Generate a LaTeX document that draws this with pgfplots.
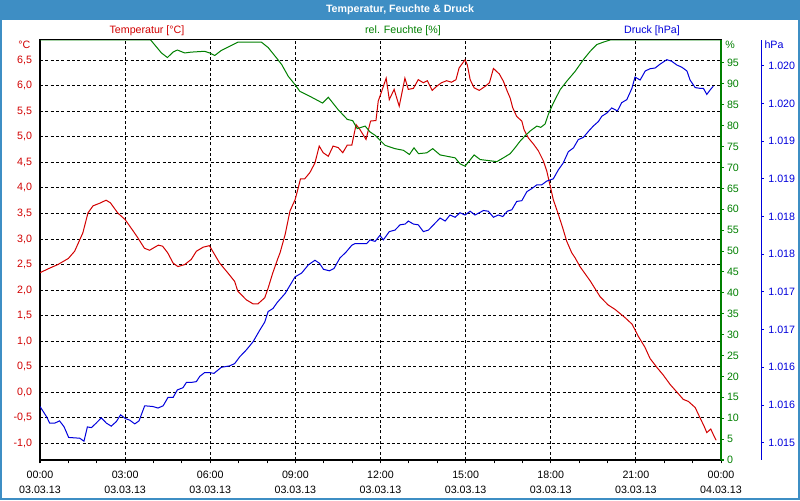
\documentclass[border=0pt]{standalone}
\usepackage{pgfplots}
\pgfplotsset{compat=1.18}
\usepackage{fontspec}
\setmainfont{Liberation Sans}
\definecolor{tred}{RGB}{210,0,0}
\definecolor{hgreen}{RGB}{0,128,0}
\definecolor{pblue}{RGB}{0,0,220}
\definecolor{titleblue}{RGB}{62,142,196}
\newcommand\f{\fontsize{8}{11.25}\selectfont}
\pgfplotsset{base/.style={at={(30pt,30pt)}, anchor=south west, scale only axis,
  width=510.75pt, height=315pt, xmin=0, xmax=24,
  every tick label/.append style={font=\f},
  /pgf/number format/assume math mode=true}}
\begin{document}
\begin{tikzpicture}
\begin{scope}[x=0.75pt,y=0.75pt]
\fill[white] (0,0) rectangle (800,500);
\fill[titleblue] (0,480) rectangle (800,500);
\draw[titleblue,line width=1.5pt] (1,1) rectangle (799,499);
\node[white,font=\bfseries\fontsize{8}{9}\selectfont] at (400,490) {Temperatur, Feuchte \& Druck};
\node[tred,font=\f] at (147,469) {Temperatur [°C]};
\node[hgreen,font=\f] at (403,469) {rel. Feuchte [\%]};
\node[pblue,font=\f] at (652,469) {Druck [hPa]};
\node[tred,font=\f,anchor=east] at (35,455) {°C};
\node[hgreen,font=\f] at (730,455) {\%};
\node[pblue,font=\f] at (774,455) {hPa};
\end{scope}

% Temperature axis
\begin{axis}[base,
 ymin=-1.327, ymax=6.897,
 axis line style={black, line width=0.75pt},
 xtick={0,3,6,9,12,15,18,21,24},
 minor xtick={1,2,4,5,7,8,10,11,13,14,16,17,19,20,22,23},
 xticklabels={{00:00\\03.03.13},{03:00\\03.03.13},{06:00\\03.03.13},{09:00\\03.03.13},{12:00\\03.03.13},{15:00\\03.03.13},{18:00\\03.03.13},{21:00\\03.03.13},{00:00\\04.03.13}},
 xticklabel style={align=center, text=black, yshift=-2pt},
 xtick pos=left, tick align=outside,
 major tick length=2.5pt, minor tick length=2.5pt,
 x tick style={black, line width=0.75pt},
 ytick={-1,-0.5,0,0.5,1,1.5,2,2.5,3,3.5,4,4.5,5,5.5,6,6.5},
 yticklabels={{-1,0},{-0,5},{0,0},{0,5},{1,0},{1,5},{2,0},{2,5},{3,0},{3,5},{4,0},{4,5},{5,0},{5,5},{6,0},{6,5}},
 ytick pos=left,
 y tick style={draw=none},
 yticklabel style={text=tred},
 grid=major,
 major grid style={black, line width=0.75pt, dash pattern=on 2.25pt off 1.75pt},
]
\addplot[tred, line width=0.75pt] table {
0.00 2.34
0.30 2.42
0.63 2.50
1.00 2.62
1.22 2.76
1.51 3.12
1.69 3.51
1.87 3.65
2.10 3.70
2.33 3.76
2.48 3.71
2.74 3.51
3.00 3.38
3.28 3.16
3.44 3.03
3.68 2.82
3.86 2.78
4.17 2.88
4.32 2.86
4.50 2.73
4.69 2.53
4.86 2.46
5.10 2.50
5.33 2.60
5.51 2.76
5.75 2.84
5.97 2.87
6.15 2.70
6.33 2.53
6.63 2.33
6.86 2.17
6.97 1.98
7.27 1.81
7.51 1.73
7.68 1.73
7.92 1.85
8.04 2.04
8.20 2.33
8.39 2.63
8.46 2.73
8.64 3.09
8.81 3.55
8.99 3.77
9.10 4.00
9.18 4.18
9.33 4.18
9.51 4.30
9.69 4.49
9.84 4.82
9.98 4.69
10.16 4.62
10.33 4.82
10.51 4.79
10.67 4.69
10.83 4.84
10.99 4.84
11.14 5.24
11.28 5.14
11.49 4.95
11.65 5.31
11.84 5.32
11.92 5.70
12.04 5.89
12.20 6.15
12.31 5.73
12.48 5.93
12.66 5.60
12.86 6.15
12.98 5.93
13.16 5.95
13.33 6.12
13.51 6.06
13.65 6.10
13.82 5.91
13.98 5.99
14.15 6.06
14.33 6.10
14.50 6.07
14.66 6.12
14.77 6.35
14.98 6.51
15.06 6.41
15.16 6.12
15.30 5.96
15.48 5.91
15.69 5.99
15.84 6.06
15.98 6.34
16.19 6.23
16.33 6.09
16.47 5.89
16.57 5.76
16.66 5.57
16.80 5.40
16.98 5.31
17.06 5.14
17.21 4.98
17.39 4.86
17.56 4.73
17.74 4.53
17.86 4.33
17.98 4.04
18.09 3.77
18.27 3.48
18.42 3.22
18.56 2.96
18.74 2.73
18.86 2.63
19.03 2.46
19.39 2.18
19.74 1.87
20.02 1.71
20.27 1.62
20.62 1.46
20.87 1.33
21.08 1.10
21.32 0.88
21.50 0.66
21.75 0.48
21.96 0.34
22.21 0.15
22.45 0.00
22.67 -0.14
22.85 -0.18
23.09 -0.30
23.26 -0.50
23.40 -0.66
23.50 -0.79
23.64 -0.72
23.73 -0.83
23.83 -0.94
};
\end{axis}

% Humidity axis
\begin{axis}[base, ymin=0, ymax=100.5,
 axis x line=none, axis y line*=right,
 y axis line style={hgreen, line width=1.1pt, -},
 ytick={0,5,...,95}, tick align=outside, major tick length=2pt,
 y tick style={hgreen, line width=0.75pt},
 yticklabel style={text=hgreen, xshift=-1pt},
]
\addplot[hgreen, line width=0.75pt] table {
0.00 100.5
3.90 100.5
4.28 97.4
4.49 96.3
4.69 97.6
4.84 98.1
5.10 97.4
5.33 97.6
5.80 97.8
5.98 97.4
6.16 96.8
6.39 98.0
6.69 99.0
6.98 100.0
7.80 100.0
8.04 98.7
8.36 96.0
8.52 94.6
8.75 91.8
8.99 89.8
9.16 88.2
9.52 87.0
9.96 85.4
10.16 86.8
10.51 83.8
10.83 81.5
11.02 81.2
11.18 79.3
11.46 79.9
11.63 78.5
11.81 77.7
12.16 75.3
12.51 74.5
12.81 74.1
13.02 73.1
13.18 74.7
13.34 73.3
13.63 73.5
13.84 74.5
14.10 73.0
14.63 72.3
14.80 70.9
14.98 70.3
15.30 73.0
15.51 71.9
16.10 71.4
16.33 72.3
16.57 73.3
16.74 74.7
16.92 76.3
17.10 77.6
17.27 78.7
17.51 79.9
17.65 79.6
17.80 80.4
17.92 82.8
18.09 85.4
18.33 88.6
18.56 90.6
18.86 93.0
19.15 95.8
19.39 97.8
19.62 99.4
19.86 100.0
20.09 100.5
24.00 100.5
};
\end{axis}

% Pressure data
\begin{axis}[base, ymin=1014.771, ymax=1020.341, hide axis]
\addplot[pblue, line width=0.75pt] table {
0.00 1015.48
0.24 1015.34
0.34 1015.26
0.52 1015.26
0.69 1015.29
0.85 1015.21
1.01 1015.07
1.40 1015.06
1.55 1015.02
1.67 1015.21
1.81 1015.20
1.98 1015.26
2.16 1015.33
2.34 1015.26
2.51 1015.22
2.69 1015.28
2.84 1015.37
3.01 1015.32
3.16 1015.30
3.34 1015.25
3.49 1015.29
3.69 1015.49
3.98 1015.48
4.16 1015.46
4.34 1015.49
4.51 1015.60
4.69 1015.60
4.84 1015.70
5.04 1015.73
5.16 1015.80
5.33 1015.80
5.51 1015.81
5.63 1015.88
5.80 1015.93
5.98 1015.93
6.13 1015.92
6.39 1016.00
6.69 1016.02
6.86 1016.05
7.04 1016.14
7.27 1016.23
7.51 1016.34
7.74 1016.49
7.92 1016.60
8.04 1016.74
8.21 1016.78
8.36 1016.86
8.64 1016.98
8.99 1017.20
9.22 1017.25
9.46 1017.36
9.69 1017.42
9.85 1017.38
9.99 1017.30
10.20 1017.28
10.36 1017.31
10.57 1017.45
10.79 1017.53
10.99 1017.62
11.10 1017.64
11.51 1017.64
11.63 1017.69
11.81 1017.67
11.98 1017.75
12.10 1017.69
12.31 1017.80
12.51 1017.82
12.69 1017.89
12.87 1017.90
12.98 1017.94
13.16 1017.90
13.33 1017.89
13.51 1017.80
13.69 1017.82
13.92 1017.91
14.10 1017.98
14.28 1017.94
14.45 1018.02
14.63 1017.99
14.80 1018.05
14.98 1018.02
15.16 1018.07
15.33 1018.02
15.63 1018.08
15.80 1018.07
15.98 1017.99
16.15 1018.02
16.31 1018.00
16.47 1018.07
16.63 1018.09
16.80 1018.20
16.98 1018.21
17.16 1018.33
17.33 1018.37
17.51 1018.42
17.68 1018.42
17.86 1018.47
18.09 1018.50
18.27 1018.62
18.44 1018.71
18.62 1018.86
18.80 1018.91
18.97 1019.02
19.15 1019.05
19.33 1019.13
19.50 1019.20
19.68 1019.26
19.80 1019.33
19.97 1019.37
20.15 1019.44
20.35 1019.40
20.50 1019.51
20.68 1019.55
20.86 1019.70
20.97 1019.85
21.15 1019.81
21.33 1019.93
21.50 1019.96
21.68 1019.97
21.85 1020.02
22.09 1020.08
22.26 1020.06
22.44 1020.01
22.62 1019.98
22.80 1019.93
22.91 1019.81
23.09 1019.71
23.26 1019.70
23.38 1019.70
23.50 1019.62
23.62 1019.68
23.73 1019.73
};
\end{axis}

% Pressure scale (offset to the right)
\begin{axis}[at={(60pt,30pt)}, anchor=south west, scale only axis,
 width=510.75pt, height=315pt, xmin=0, xmax=24,
 ymin=1014.771, ymax=1020.341,
 every tick label/.append style={font=\f},
 axis x line=none, axis y line*=right,
 y axis line style={pblue, line width=0.75pt, -},
 ytick={1015,1015.5,1016,1016.5,1017,1017.5,1018,1018.5,1019,1019.5,1020},
 yticklabels={1.015,1.016,1.016,1.017,1.017,1.018,1.018,1.019,1.019,1.020,1.020},
 tick align=outside, major tick length=2pt,
 y tick style={pblue, line width=0.75pt},
 yticklabel style={text=pblue},
]
\end{axis}

\draw[black, line width=0.75pt] (30pt,345pt) -- (540.75pt,345pt);
\end{tikzpicture}
\end{document}
